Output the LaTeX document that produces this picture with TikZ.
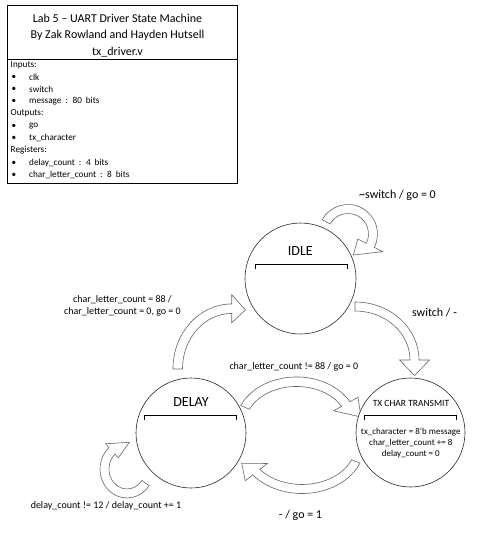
\documentclass[tikz,border=0pt]{standalone}
\usepackage{fontspec}
\setmainfont{Carlito}
\newfontfamily\boxfont[WordSpace=1.9]{Carlito}
\newcommand\blockarc[9]{%
 \pgfmathsetmacro\BAoa{#3+#7/2}%
 \pgfmathsetmacro\BAob{#4+#7/2}%
 \pgfmathsetmacro\BAia{#3-#7/2}%
 \pgfmathsetmacro\BAib{#4-#7/2}%
 \pgfmathsetmacro\BAha{#3+#8}%
 \pgfmathsetmacro\BAhb{#4+#8}%
 \pgfmathsetmacro\BAka{#3-#8}%
 \pgfmathsetmacro\BAkb{#4-#8}%
 \draw[blockarrow] ({#1+\BAoa*cos(#5)},{#2+\BAob*sin(#5)})
   arc[start angle=#5,end angle=#6,x radius=\BAoa,y radius=\BAob]
   -- ({#1+\BAha*cos(#6)},{#2+\BAhb*sin(#6)}) -- #9
   -- ({#1+\BAka*cos(#6)},{#2+\BAkb*sin(#6)})
   -- ({#1+\BAia*cos(#6)},{#2+\BAib*sin(#6)})
   arc[start angle=#6,end angle=#5,x radius=\BAia,y radius=\BAib] -- cycle;}
\tikzset{
  state/.style={circle, draw=black!85, line width=0.6pt, fill=white, inner sep=0pt},
  blockarrow/.style={draw=black!60, line width=0.6pt, fill=white, line join=miter},
  brk/.style={draw=black, line width=0.8pt},
  lbl/.style={inner sep=0pt, font=\fontsize{10}{12}\selectfont, align=center},
  biglbl/.style={inner sep=0pt, font=\fontsize{12}{14}\selectfont},
  statename/.style={inner sep=0pt, font=\fontsize{14}{16}\selectfont},
  titletxt/.style={inner sep=0pt, font=\fontsize{12}{14}\selectfont},
  itemtxt/.style={inner sep=0pt, anchor=west, font=\boxfont\fontsize{9.2}{10}\selectfont},
}
\begin{document}
\begin{tikzpicture}[x=1pt,y=1pt,yscale=-1]
\useasboundingbox (0,0) rectangle (493,538);
% ---------- title box ----------
\node[draw, line width=0.6pt, minimum width=230pt, minimum height=177.4pt, anchor=north west, inner sep=0pt] (box) at (7.3,5.3) {};
\coordinate (dv) at (0,59.3);
\draw[line width=0.6pt] (box.west |- dv) -- (box.east |- dv);
\node[titletxt] (t1) at (117.5,18.3) {Lab 5 – UART Driver State Machine};
\node[titletxt] (t2) at (117.5,35) {By Zak Rowland and Hayden Hutsell};
\node[titletxt] (t3) at (117.5,51.7) {tx\_driver.v};
\node[itemtxt] (h1) at (10.5,65) {Inputs:};
\node[itemtxt] (b1) at (11.5,77) {•};   \node[itemtxt] (i1) at (29,77) {clk};
\node[itemtxt] (b2) at (11.5,89.3) {•}; \node[itemtxt] (i2) at (29,89.3) {switch};
\node[itemtxt] (b3) at (11.5,101.3) {•}; \node[itemtxt] (i3) at (29,101.3) {message : 80 bits};
\node[itemtxt] (h2) at (10.5,113.5) {Outputs:};
\node[itemtxt] (b4) at (11.5,126) {•}; \node[itemtxt] (i4) at (29,126) {go};
\node[itemtxt] (b5) at (11.5,138.3) {•}; \node[itemtxt] (i5) at (29,138.3) {tx\_character};
\node[itemtxt] (h3) at (10.5,150.3) {Registers:};
\node[itemtxt] (b6) at (11.5,163) {•}; \node[itemtxt] (i6) at (29,163) {delay\_count : 4 bits};
\node[itemtxt] (b7) at (11.5,175.3) {•}; \node[itemtxt] (i7) at (29,175.3) {char\_letter\_count : 8 bits};
% ---------- block arrows ----------
% IDLE self loop
\blockarc{348}{234}{25}{25}{-151}{27}{9}{14}{(353.3,255)}
% IDLE -> TX (switch)
\blockarc{355}{360}{59.5}{53.5}{-90}{0}{9}{15}{(414.5,375.5)}
% DELAY -> IDLE
\blockarc{231.7}{369}{54}{60.3}{180}{270}{9.5}{14}{(245.5,310)}
% DELAY -> TX (top)
\blockarc{296.5}{425}{56.3}{43.3}{-156}{-29}{9.5}{14}{(361,417)}
% TX -> DELAY (bottom)
\blockarc{302}{445}{58}{44}{22}{142}{9}{14}{(241.7,463.3)}
% DELAY self loop
\blockarc{127}{469}{22.5}{24.5}{35}{228}{9}{9.5}{(129.3,442.3)}
% ---------- states ----------
\node[state, minimum size=111pt] (idle) at (300.5,278.5) {};
\node[state, minimum size=110pt] (delay) at (191,433) {};
\node[state, minimum size=109pt] (tx) at (410.5,432.5) {};
\node[statename] (idlename) at (300.3,251) {IDLE};
\node[statename] (delayname) at (191,402) {DELAY};
\node[inner sep=0pt, font=\fontsize{9.5}{11}\selectfont] (txname) at (411,403) {TX CHAR TRANSMIT};
\draw[brk] (255,269) -- (255,264) -- (347,264) -- (347,269);
\draw[brk] (144.3,420) -- (144.3,415) -- (236.3,415) -- (236.3,420);
\draw[brk] (364.7,420) -- (364.7,415) -- (456.7,415) -- (456.7,420);
\node[inner sep=0pt, align=center, font=\fontsize{9}{11}\selectfont] (txbody) at (410.8,443.3)
  {tx\_character = 8'b message\\char\_letter\_count += 8\\delay\_count = 0};
% ---------- transition labels ----------
\node[biglbl] (l1) at (397.5,195) {\textasciitilde switch / go = 0};
\node[biglbl] (l2) at (434.5,312.7) {switch / -};
\node[lbl] (l3) at (122.5,306) {char\_letter\_count = 88 /\\char\_letter\_count = 0, go = 0};
\node[lbl] (l4) at (293.8,367.3) {char\_letter\_count != 88 / go = 0};
\node[biglbl] (l5) at (300.5,515) {- / go = 1};
\node[lbl] (l6) at (106,506) {delay\_count != 12 / delay\_count += 1};
\end{tikzpicture}
\end{document}
